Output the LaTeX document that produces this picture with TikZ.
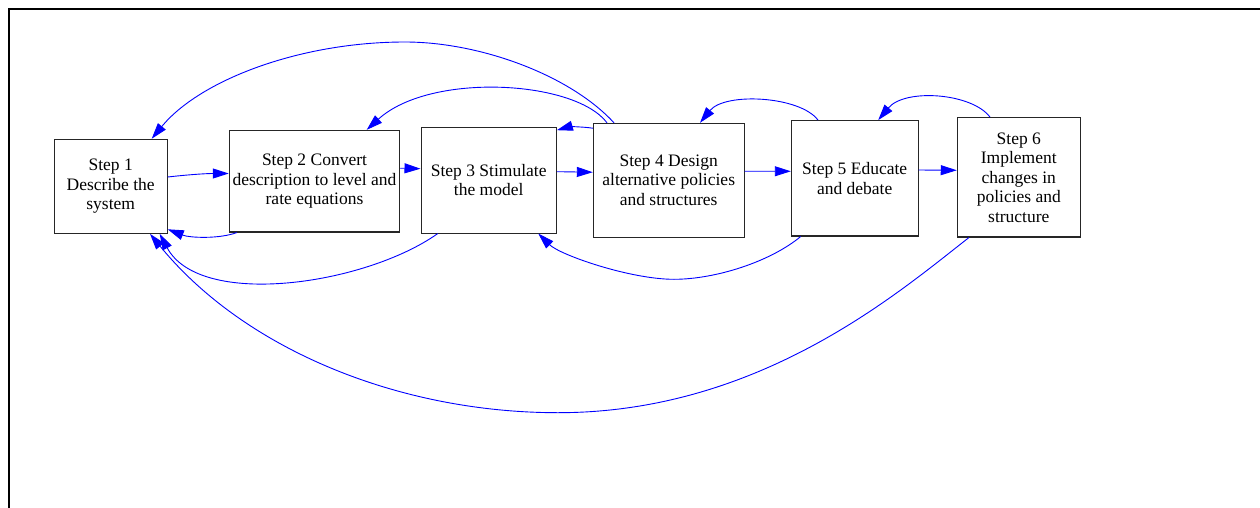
\documentclass[tikz,border=0pt]{standalone}
\usepackage{fontspec}
\setmainfont{Liberation Serif}
\usetikzlibrary{arrows.meta}

\tikzset{
  stepbox/.style={draw=black!85, line width=1.1pt, rectangle, inner sep=0pt,
    align=center, font=\fontsize{17.5}{19.5}\selectfont},
  flow/.style={draw=blue, line width=0.9pt,
    -{Triangle[length=16pt,width=10pt]}, fill=none},
}

\begin{document}
\begin{tikzpicture}[x=1pt,y=-1pt]
  \useasboundingbox (0,0) rectangle (1260,508);

  % frame edges
  \draw[line width=2pt] (1262,9.5) -- (8.5,9.5) -- (8.5,510);

  % the six steps
  \node[stepbox, minimum width=113pt,   minimum height=94pt]    (s1) at (110.7,186.3)  {Step 1\\Describe the\\system};
  \node[stepbox, minimum width=170.4pt, minimum height=101.6pt] (s2) at (314.5,181.2)  {Step 2 Convert\\description to level and\\rate equations};
  \node[stepbox, minimum width=135.3pt, minimum height=105.7pt] (s3) at (488.7,180.2)  {Step 3 Stimulate\\the model};
  \node[stepbox, minimum width=150.7pt, minimum height=113.7pt] (s4) at (668.7,180.2)  {Step 4 Design\\alternative policies\\and structures};
  \node[stepbox, minimum width=126.7pt, minimum height=115.3pt] (s5) at (854.7,178.3)  {Step 5 Educate\\and debate};
  \node[stepbox, minimum width=123pt,   minimum height=119.3pt] (s6) at (1018.8,177.3) {Step 6\\Implement\\changes in\\policies and\\structure};

  % forward links
  \draw[flow] ([yshift=9.3pt]s1.east) .. controls (185,175) and (205,173.5) .. ([yshift=7.7pt]s2.west);
  \draw[flow] ([yshift=13pt]s2.east) -- ([yshift=11.5pt]s3.west);
  \draw[flow] ([yshift=8.5pt]s3.east) -- ([yshift=8pt]s4.west);
  \draw[flow] ([yshift=9pt]s4.east) -- ([yshift=7pt]s5.west);
  \draw[flow] ([yshift=8.3pt]s5.east) -- ([yshift=7pt]s6.west);

  % feedback links over the top
  \draw[flow] ([yshift=52pt]s4.west) .. controls (582,126.5) and (568,127) .. ([yshift=50pt]s3.east);
  \draw[flow] ([xshift=-54.7pt]s4.north) .. controls (570,75) and (480,42) .. (405,42)
                                        .. controls (300,42) and (200,80) .. ([xshift=41pt]s1.north);
  \draw[flow] ([xshift=-61.7pt]s4.north) .. controls (575,80) and (430,72) .. ([xshift=52.2pt]s2.north);
  \draw[flow] ([xshift=-36.7pt]s5.north) .. controls (800,96) and (725,92) .. ([xshift=31.3pt]s4.north);
  \draw[flow] ([xshift=-28.8pt]s6.north) .. controls (972,93) and (905,88) .. ([xshift=23.5pt]s5.north);

  % feedback links underneath
  \draw[flow] ([xshift=-77.8pt]s2.south) .. controls (220,239) and (190,238) .. ([yshift=-43pt]s1.east);
  \draw[flow] ([xshift=-51pt]s3.south) .. controls (365,285) and (200,309) .. ([xshift=49pt]s1.south);
  \draw[flow] ([xshift=-54pt]s5.south) .. controls (770,262) and (715,279.3) .. (674,279.3)
                                      .. controls (630,279.3) and (560,255) .. ([xshift=49.6pt]s3.south);
  \draw[flow] ([xshift=-49.8pt]s6.south) .. controls (899,292) and (760,412.7) .. (558,412.7)
                                        .. controls (400,412.7) and (245,350) .. ([xshift=39.3pt]s1.south);
\end{tikzpicture}
\end{document}
